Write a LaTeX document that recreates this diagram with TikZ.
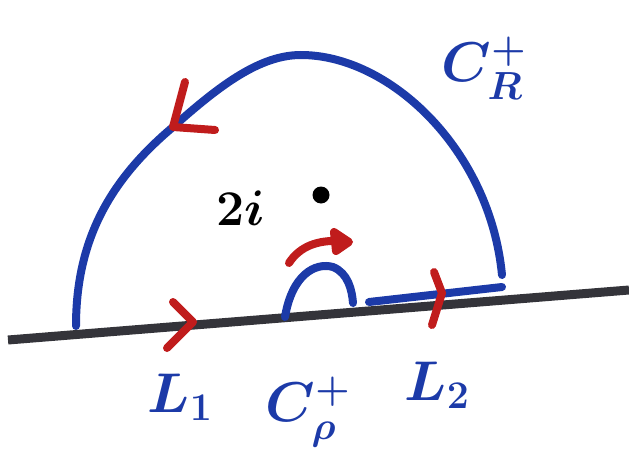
\documentclass[tikz,border=0pt]{standalone}
\usepackage{fix-cm}
\usetikzlibrary{positioning}
\definecolor{penblue}{RGB}{28,58,168}
\definecolor{penred}{RGB}{192,28,28}
\definecolor{pengray}{RGB}{52,52,58}

\begin{document}
\begin{tikzpicture}[x=1pt,y=-1pt,
	blueline/.style={draw=penblue, line width=8pt, line cap=round},
	redmark/.style={draw=penred, line width=8pt, line cap=round, line join=round},
	lbl/.style={text=penblue, inner sep=0pt, font=\fontsize{56}{60}\selectfont\boldmath}]
	\useasboundingbox (0,0) rectangle (629,455);
	% real axis
	\coordinate (axleft) at (8,340);
	\coordinate (axright) at (629,290);
	\path[draw=pengray, line width=9pt] (axleft) -- (axright);
	% big half circle C_R
	\coordinate (Rfoot) at (76,326);
	\coordinate (Rmark) at (173,127);
	\coordinate (Rtop) at (301,55);
	\coordinate (Rend) at (502,275);
	\path[blueline] (Rfoot) .. controls (76,240) and (110,180) .. (Rmark)
		.. controls (220,85) and (260,55) .. (Rtop)
		.. controls (390,55) and (490,150) .. (Rend);
	% small half circle C_rho and L_2
	\coordinate (rholeft) at (285,317);
	\coordinate (rhotop) at (333,267);
	\coordinate (rhoright) at (353,303);
	\path[blueline] (rholeft) .. controls (292,275) and (315,262) .. (rhotop)
		.. controls (348,273) and (352,290) .. (rhoright);
	\coordinate (Ltwoleft) at (369,302);
	\coordinate (Ltworight) at (502,287);
	\path[blueline] (Ltwoleft) -- (Ltworight);
	% direction marks
	\path[redmark] (185,82) -- (Rmark) -- (215,130);
	\path[redmark] (173,302) -- (193,322) -- (167,348);
	\path[redmark] (434,272) -- (442,293) -- (432,325);
	\path[redmark] (289,263) .. controls (300,246) and (318,240) .. (340,241);
	\path[redmark, fill=penred] (334,232) -- (349,242) -- (336,251) -- cycle;
	% pole and labels
	\node[circle, fill=black, inner sep=0pt, minimum size=17pt] (pole) at (321,195) {};
	\node[inner sep=0pt, font=\fontsize{50}{54}\selectfont\boldmath] (twoi) at (241,208) {$2i$};
	\node[lbl] (CR) at (484,68) {$C_R^+$};
	\node[lbl] (Lone) at (180,397) {$L_1$};
	\node[lbl] (Crho) at (308,412) {$C_\rho^+$};
	\node[lbl] (Ltwo) at (437,385) {$L_2$};
\end{tikzpicture}
\end{document}
